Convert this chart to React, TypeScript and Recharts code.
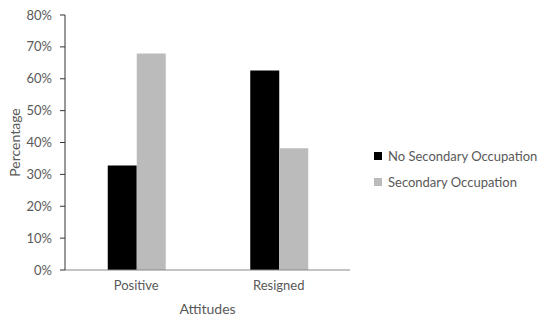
import React from 'react';
import { BarChart, Bar, XAxis, YAxis } from 'recharts';

const attitudes = ['Positive', 'Resigned'];
const noSecondary = [32.8, 62.6];
const secondary = [67.9, 38.2];
const yTicks = [0, 10, 20, 30, 40, 50, 60, 70, 80];

const data = attitudes.map((name, i) => ({
  name,
  noSecondary: noSecondary[i],
  secondary: secondary[i],
}));

const FONT = 'Lato, "Open Sans", sans-serif';
const TEXT = '#595959';

const series = [
  { key: 'noSecondary', label: 'No Secondary Occupation', color: '#000000' },
  { key: 'secondary', label: 'Secondary Occupation', color: '#bbbbbb' },
];

function LegendBox() {
  return (
    <div
      style={{
        position: 'absolute',
        left: 374,
        top: 143,
        fontFamily: FONT,
        fontSize: 13,
        color: TEXT,
      }}
    >
      {series.map((s) => (
        <div
          key={s.key}
          style={{ display: 'flex', alignItems: 'center', height: 26, whiteSpace: 'nowrap' }}
        >
          <div
            style={{ width: 8, height: 8, backgroundColor: s.color, marginRight: 6 }}
          />
          <span>{s.label}</span>
        </div>
      ))}
    </div>
  );
}

export default function App() {
  return (
    <div style={{ position: 'absolute', left: 0, top: 0, width: 540, height: 318, background: '#fff' }}>
      <BarChart
        width={540}
        height={318}
        data={data}
        margin={{ top: 15, right: 190, bottom: 0, left: 0 }}
        barCategoryGap="30%"
        barGap={0}
      >
        <XAxis
          dataKey="name"
          height={48}
          tickLine={false}
          tickSize={0}
          tickMargin={11}
          axisLine={{ stroke: '#888888' }}
          tick={{ fontSize: 13, fill: TEXT, fontFamily: FONT }}
          label={{
            value: 'Attitudes',
            position: 'insideBottom',
            offset: 4,
            style: { fontSize: 14, fill: TEXT, fontFamily: FONT },
          }}
        />
        <YAxis
          width={65}
          domain={[0, 80]}
          ticks={yTicks}
          interval={0}
          tickFormatter={(v: number) => `${v}%`}
          tickSize={5}
          tickMargin={8}
          axisLine={{ stroke: '#333333' }}
          tickLine={{ stroke: '#333333' }}
          tick={{ fontSize: 13, fill: TEXT, fontFamily: FONT }}
          label={{
            value: 'Percentage',
            angle: -90,
            position: 'insideLeft',
            offset: 15,
            style: { textAnchor: 'middle', fontSize: 14, fill: TEXT, fontFamily: FONT },
          }}
        />
        {series.map((s) => (
          <Bar
            key={s.key}
            dataKey={s.key}
            name={s.label}
            fill={s.color}
            isAnimationActive={false}
          />
        ))}
      </BarChart>
      <LegendBox />
    </div>
  );
}
